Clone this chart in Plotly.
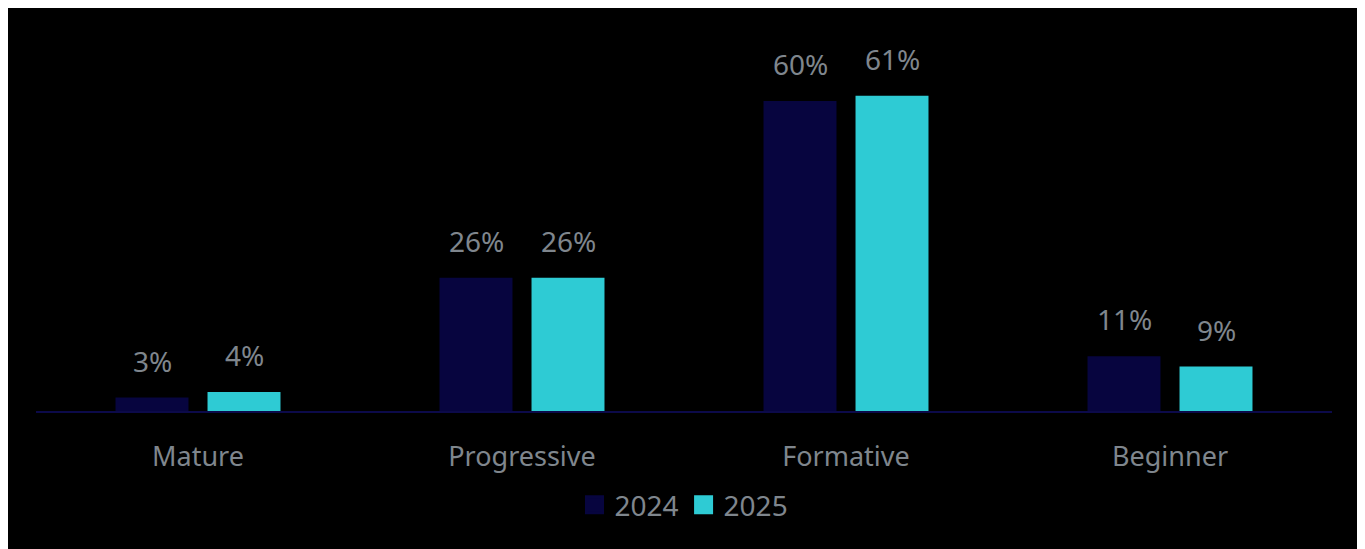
import plotly.graph_objects as go

categories = ["Mature", "Progressive", "Formative", "Beginner"]
series_names = ["2024", "2025"]
values_2024 = [2.6, 25.8, 60.0, 10.6]
values_2025 = [3.7, 25.8, 61.0, 8.6]
labels_2024 = ["3%", "26%", "60%", "11%"]
labels_2025 = ["4%", "26%", "61%", "9%"]

colors = ["#07053f", "#2ecbd4"]
W, H = 1365, 549
# page is offset by the 8px body margin
ml, mt = 28, 32
axis_y = 403
mr = W - 1324
mb = H - axis_y
text_gray = "#7f868d"
font_family = "Source Sans Pro, Noto Sans, Lato, sans-serif"

fig = go.Figure()
for name, vals, col in zip(series_names, [values_2024, values_2025], colors):
    fig.add_trace(go.Bar(x=categories, y=vals, name=name, marker=dict(color=col, line=dict(width=0)),
                         showlegend=False, hoverinfo="skip"))
    # legend-only proxy with larger square swatch
    fig.add_trace(go.Scatter(x=[None], y=[None], name=name, mode="markers",
                             marker=dict(symbol="square", size=16, color=col, line=dict(width=3, color=col))))

# value labels above bars
for vals, labs, shift in [(values_2024, labels_2024, -46), (values_2025, labels_2025, 46)]:
    for c, v, t in zip(categories, vals, labs):
        fig.add_annotation(x=c, y=v, text=t, showarrow=False, xshift=shift, yshift=16,
                           yanchor="bottom", font=dict(size=28, color=text_gray, family=font_family))

plot_h = H - mt - mb
px_per_unit = 310 / 60.0
ymax = plot_h / px_per_unit

fig.update_layout(
    width=W, height=H,
    margin=dict(l=ml, r=mr, t=mt, b=mb, pad=0),
    paper_bgcolor="black", plot_bgcolor="black",
    barmode="group", bargap=0.432, bargroupgap=0.207,
    font=dict(family=font_family, color=text_gray),
    xaxis=dict(showgrid=False, zeroline=False, showline=True, linecolor="#0c0a4a", linewidth=2,
               tickfont=dict(size=27, color=text_gray), ticks="", ticklabelstandoff=21),
    yaxis=dict(range=[0, ymax], visible=False, showgrid=False, zeroline=False),
    legend=dict(orientation="h", x=0.5, xanchor="center", y=(axis_y - 497) / plot_h, yanchor="middle",
                font=dict(size=28, color=text_gray), bgcolor="rgba(0,0,0,0)", itemwidth=30,
                tracegroupgap=0),
)
fig.write_html("out.html")
